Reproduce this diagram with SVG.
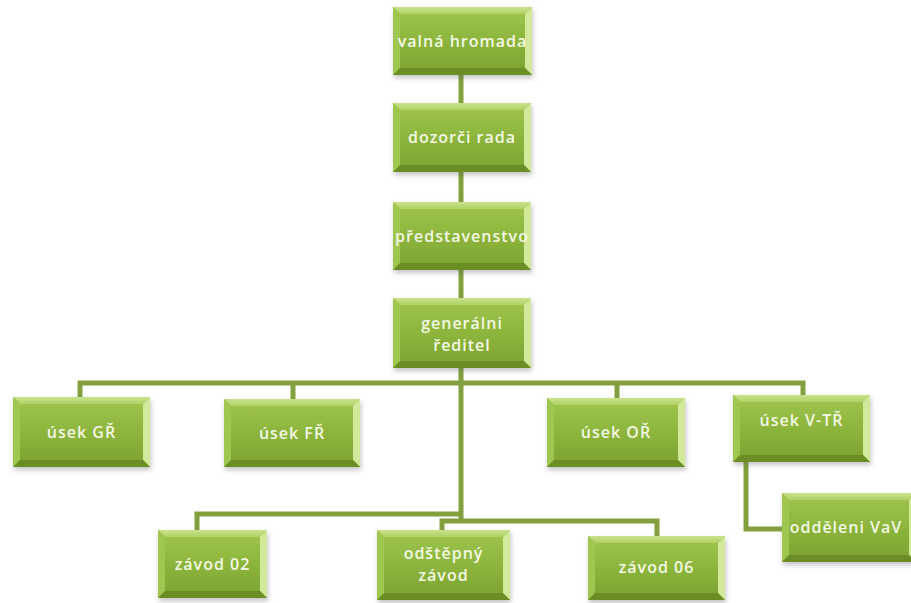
<svg xmlns="http://www.w3.org/2000/svg" width="911" height="603" viewBox="0 0 911 603">
  <defs>
    <linearGradient id="faceGrad" x1="0" y1="0" x2="0" y2="1">
      <stop offset="0" stop-color="#9cc24c"/>
      <stop offset="0.5" stop-color="#8db53c"/>
      <stop offset="1" stop-color="#7fa533"/>
    </linearGradient>
    <linearGradient id="topGrad" x1="0" y1="0" x2="0" y2="1">
      <stop offset="0" stop-color="#c9e28c"/>
      <stop offset="1" stop-color="#b0d264"/>
    </linearGradient>
    <filter id="shadow" x="-10%" y="-10%" width="120%" height="130%">
      <feDropShadow dx="1" dy="3" stdDeviation="2.5" flood-color="#555" flood-opacity="0.35"/>
    </filter>
  </defs>
  <style>
    .bevel { filter: url(#shadow); }
    .outer { fill: #8ab23a; }
    .bt { fill: url(#topGrad); }
    .bl { fill: #9fc650; }
    .br { fill: #d2e89a; }
    .bb { fill: #6a8d25; }
    .face { fill: url(#faceGrad); }
    .lbl { font-family: "Open Sans", "DejaVu Sans", sans-serif; font-weight: 600; font-size: 16px; letter-spacing: 1px; fill: #f3f8e4; text-anchor: middle; }
    .conn { fill: none; stroke: #83a03f; stroke-width: 5; stroke-linejoin: miter; }
  </style>
  <rect width="911" height="603" fill="#ffffff"/>

  <!-- connectors -->
  <g id="connectors">
    <path class="conn" d="M461,75 V383"/>
    <path class="conn" d="M80,397 V383 H803 V395"/>
    <path class="conn" d="M293,383 V399"/>
    <path class="conn" d="M617,383 V398"/>
    <path class="conn" d="M461,383 V521"/>
    <path class="conn" d="M197,530 V514 H461"/>
    <path class="conn" d="M442,532 V521 H657 V536"/>
    <path class="conn" d="M746,462 V529 H782"/>
  </g>

  <!-- nodes: bevelled boxes, d = 7 -->
  <g id="valna-hromada" transform="translate(393,7)">
    <g class="bevel">
      <rect class="outer" width="139" height="68"/>
      <polygon class="bt" points="0,0 139,0 132,7 7,7"/>
      <polygon class="bl" points="0,0 7,7 7,61 0,68"/>
      <polygon class="br" points="139,0 139,68 132,61 132,7"/>
      <polygon class="bb" points="0,68 139,68 132,61 7,61"/>
      <rect class="face" x="7" y="7" width="125" height="54"/>
    </g>
    <text class="lbl" x="69.5" y="40">valná hromada</text>
  </g>

  <g id="dozorci-rada" transform="translate(393,103)">
    <g class="bevel">
      <rect class="outer" width="138" height="69"/>
      <polygon class="bt" points="0,0 138,0 131,7 7,7"/>
      <polygon class="bl" points="0,0 7,7 7,62 0,69"/>
      <polygon class="br" points="138,0 138,69 131,62 131,7"/>
      <polygon class="bb" points="0,69 138,69 131,62 7,62"/>
      <rect class="face" x="7" y="7" width="124" height="55"/>
    </g>
    <text class="lbl" x="69" y="40">dozorči rada</text>
  </g>

  <g id="predstavenstvo" transform="translate(393,202)">
    <g class="bevel">
      <rect class="outer" width="138" height="68"/>
      <polygon class="bt" points="0,0 138,0 131,7 7,7"/>
      <polygon class="bl" points="0,0 7,7 7,61 0,68"/>
      <polygon class="br" points="138,0 138,68 131,61 131,7"/>
      <polygon class="bb" points="0,68 138,68 131,61 7,61"/>
      <rect class="face" x="7" y="7" width="124" height="54"/>
    </g>
    <text class="lbl" x="69" y="40">představenstvo</text>
  </g>

  <g id="generalni-reditel" transform="translate(393,298)">
    <g class="bevel">
      <rect class="outer" width="138" height="70"/>
      <polygon class="bt" points="0,0 138,0 131,7 7,7"/>
      <polygon class="bl" points="0,0 7,7 7,63 0,70"/>
      <polygon class="br" points="138,0 138,70 131,63 131,7"/>
      <polygon class="bb" points="0,70 138,70 131,63 7,63"/>
      <rect class="face" x="7" y="7" width="124" height="56"/>
    </g>
    <text class="lbl" x="69" y="31">generálni</text>
    <text class="lbl" x="69" y="53">ředitel</text>
  </g>

  <g id="usek-gr" transform="translate(13,397)">
    <g class="bevel">
      <rect class="outer" width="137" height="70"/>
      <polygon class="bt" points="0,0 137,0 130,7 7,7"/>
      <polygon class="bl" points="0,0 7,7 7,63 0,70"/>
      <polygon class="br" points="137,0 137,70 130,63 130,7"/>
      <polygon class="bb" points="0,70 137,70 130,63 7,63"/>
      <rect class="face" x="7" y="7" width="123" height="56"/>
    </g>
    <text class="lbl" x="68.5" y="41">úsek GŘ</text>
  </g>

  <g id="usek-fr" transform="translate(224,399)">
    <g class="bevel">
      <rect class="outer" width="136" height="68"/>
      <polygon class="bt" points="0,0 136,0 129,7 7,7"/>
      <polygon class="bl" points="0,0 7,7 7,61 0,68"/>
      <polygon class="br" points="136,0 136,68 129,61 129,7"/>
      <polygon class="bb" points="0,68 136,68 129,61 7,61"/>
      <rect class="face" x="7" y="7" width="122" height="54"/>
    </g>
    <text class="lbl" x="68" y="40">úsek FŘ</text>
  </g>

  <g id="usek-or" transform="translate(547,398)">
    <g class="bevel">
      <rect class="outer" width="138" height="69"/>
      <polygon class="bt" points="0,0 138,0 131,7 7,7"/>
      <polygon class="bl" points="0,0 7,7 7,62 0,69"/>
      <polygon class="br" points="138,0 138,69 131,62 131,7"/>
      <polygon class="bb" points="0,69 138,69 131,62 7,62"/>
      <rect class="face" x="7" y="7" width="124" height="55"/>
    </g>
    <text class="lbl" x="69" y="40">úsek OŘ</text>
  </g>

  <g id="usek-vtr" transform="translate(733,395)">
    <g class="bevel">
      <rect class="outer" width="137" height="67"/>
      <polygon class="bt" points="0,0 137,0 130,7 7,7"/>
      <polygon class="bl" points="0,0 7,7 7,60 0,67"/>
      <polygon class="br" points="137,0 137,67 130,60 130,7"/>
      <polygon class="bb" points="0,67 137,67 130,60 7,60"/>
      <rect class="face" x="7" y="7" width="123" height="53"/>
    </g>
    <text class="lbl" x="68.5" y="31">úsek V-TŘ</text>
  </g>

  <g id="oddeleni-vav" transform="translate(782,493)">
    <g class="bevel">
      <rect class="outer" width="134" height="69"/>
      <polygon class="bt" points="0,0 134,0 127,7 7,7"/>
      <polygon class="bl" points="0,0 7,7 7,62 0,69"/>
      <polygon class="br" points="134,0 134,69 127,62 127,7"/>
      <polygon class="bb" points="0,69 134,69 127,62 7,62"/>
      <rect class="face" x="7" y="7" width="120" height="55"/>
    </g>
    <text class="lbl" x="64" y="40">odděleni VaV</text>
  </g>

  <g id="zavod-02" transform="translate(158,530)">
    <g class="bevel">
      <rect class="outer" width="109" height="68"/>
      <polygon class="bt" points="0,0 109,0 102,7 7,7"/>
      <polygon class="bl" points="0,0 7,7 7,61 0,68"/>
      <polygon class="br" points="109,0 109,68 102,61 102,7"/>
      <polygon class="bb" points="0,68 109,68 102,61 7,61"/>
      <rect class="face" x="7" y="7" width="95" height="54"/>
    </g>
    <text class="lbl" x="54.5" y="40">závod 02</text>
  </g>

  <g id="odstepny-zavod" transform="translate(377,530)">
    <g class="bevel">
      <rect class="outer" width="133" height="70"/>
      <polygon class="bt" points="0,0 133,0 126,7 7,7"/>
      <polygon class="bl" points="0,0 7,7 7,63 0,70"/>
      <polygon class="br" points="133,0 133,70 126,63 126,7"/>
      <polygon class="bb" points="0,70 133,70 126,63 7,63"/>
      <rect class="face" x="7" y="7" width="119" height="56"/>
    </g>
    <text class="lbl" x="66.5" y="29">odštěpný</text>
    <text class="lbl" x="66.5" y="51">závod</text>
  </g>

  <g id="zavod-06" transform="translate(588,536)">
    <g class="bevel">
      <rect class="outer" width="137" height="64"/>
      <polygon class="bt" points="0,0 137,0 130,7 7,7"/>
      <polygon class="bl" points="0,0 7,7 7,57 0,64"/>
      <polygon class="br" points="137,0 137,64 130,57 130,7"/>
      <polygon class="bb" points="0,64 137,64 130,57 7,57"/>
      <rect class="face" x="7" y="7" width="123" height="50"/>
    </g>
    <text class="lbl" x="68.5" y="37">závod 06</text>
  </g>
</svg>
